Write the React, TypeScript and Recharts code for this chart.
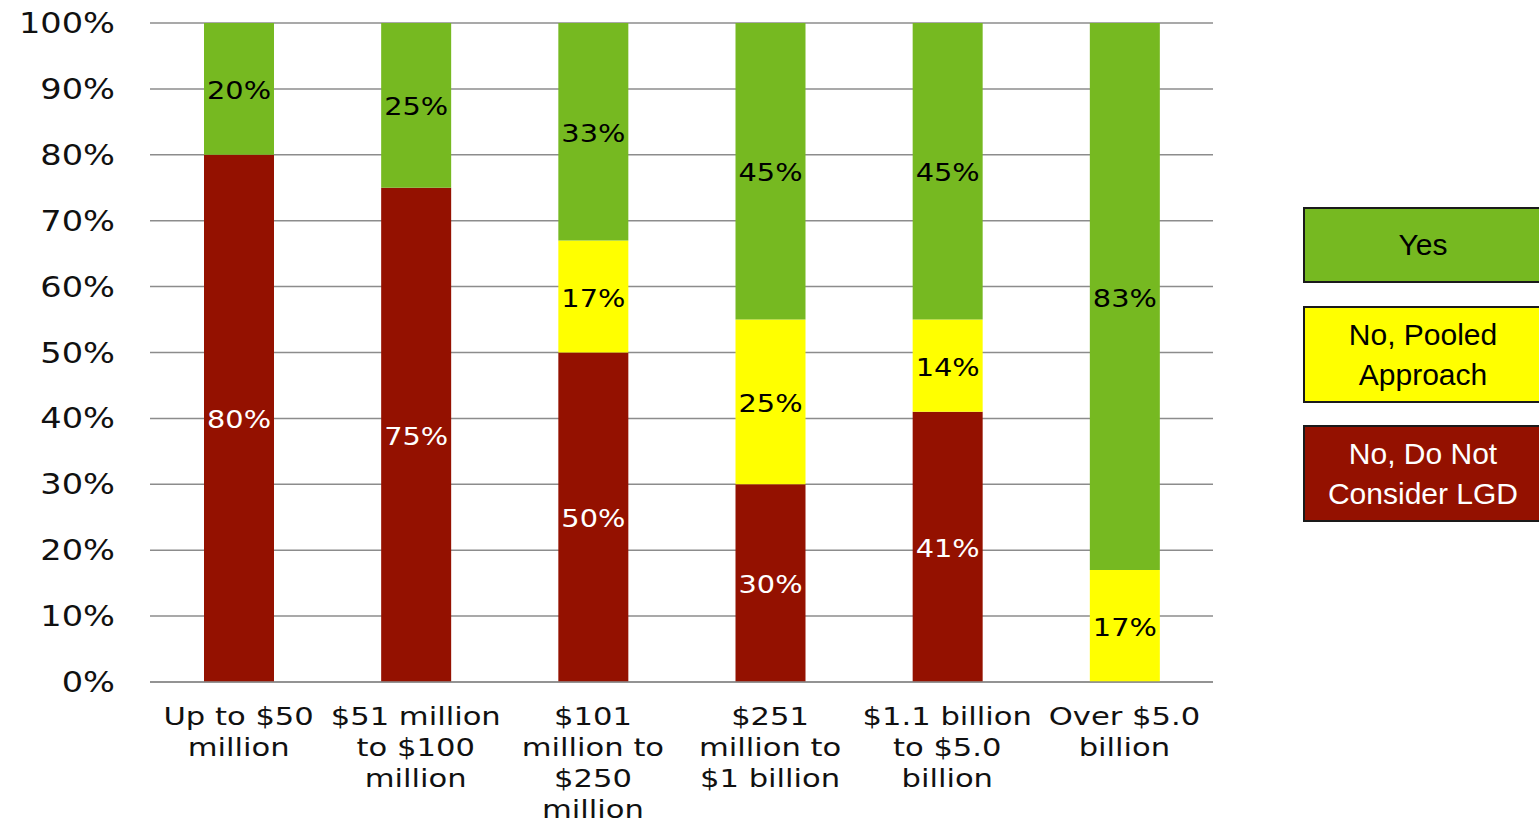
import React from "react"
import { BarChart, Bar, XAxis, YAxis, CartesianGrid, LabelList } from "recharts"

const categories = [
  "Up to $50\nmillion",
  "$51 million\nto $100\nmillion",
  "$101\nmillion to\n$250\nmillion",
  "$251\nmillion to\n$1 billion",
  "$1.1 billion\nto $5.0\nbillion",
  "Over $5.0\nbillion",
]
const doNotConsider = [80, 75, 50, 30, 41, 0]
const pooled = [0, 0, 17, 25, 14, 17]
const yes = [20, 25, 33, 45, 45, 83]
const yTicks = [0, 10, 20, 30, 40, 50, 60, 70, 80, 90, 100]

const series = [
  { key: "yes", name: "Yes", color: "#76b921", text: "#000000" },
  { key: "pooled", name: "No, Pooled\nApproach", color: "#ffff00", text: "#000000" },
  { key: "doNot", name: "No, Do Not\nConsider LGD", color: "#941100", text: "#ffffff" },
]

const data = categories.map((name, i) => ({
  name,
  doNot: doNotConsider[i],
  pooled: pooled[i],
  yes: yes[i],
}))

const FONT = "'DejaVu Sans', Verdana, sans-serif"
const STRETCH = 1.2

function XTick(props: any) {
  const { x, y, payload } = props
  const lines = String(payload.value).split("\n")
  return (
    <g transform={`translate(${x},${y}) scale(${STRETCH},1)`}>
      <text x={0} y={0} textAnchor="middle" fill="#111" fontFamily={FONT} fontSize={25.5}>
        {lines.map((l, i) => (
          <tspan key={i} x={0} y={43 + i * 31}>
            {l}
          </tspan>
        ))}
      </text>
    </g>
  )
}

function YTick(props: any) {
  const { x, y, payload } = props
  return (
    <g transform={`translate(${x},${y}) scale(${STRETCH},1)`}>
      <text x={0} y={0} dy="0.36em" textAnchor="end" fill="#111" fontFamily={FONT} fontSize={28}>
        {payload.value}%
      </text>
    </g>
  )
}

function makeLabel(color: string) {
  return (props: any) => {
    const { x, y, width, height, value } = props
    if (!value) return null
    return (
      <g transform={`translate(${x + width / 2},${y + height / 2}) scale(${STRETCH},1)`}>
        <text x={0} y={0} dy="0.42em" textAnchor="middle" fill={color} fontFamily={FONT} fontSize={24}>
          {value}%
        </text>
      </g>
    )
  }
}

function LegendBoxes() {
  const heights = [76, 97, 97]
  const tops = [207, 306, 425]
  return (
    <>
      {series.map((s, i) => (
        <div
          key={s.key}
          style={{
            position: "absolute",
            left: 1303,
            top: tops[i],
            width: 240,
            height: heights[i],
            boxSizing: "border-box",
            border: "2px solid #1a1a1a",
            background: s.color,
            color: s.text,
            fontFamily: "'Liberation Sans', Arial, sans-serif",
            fontSize: 30,
            lineHeight: "40px",
            display: "flex",
            alignItems: "center",
            justifyContent: "center",
            textAlign: "center",
            whiteSpace: "pre",
          }}
        >
          {s.name}
        </div>
      ))}
    </>
  )
}

export default function App() {
  return (
    <div style={{ position: "absolute", left: 0, top: 0, width: 1539, height: 822, overflow: "hidden", background: "#fff" }}>
      <BarChart width={1539} height={822} data={data} margin={{ top: 23, right: 326, left: 0, bottom: 0 }}>
        <CartesianGrid vertical={false} stroke="#8c8c8c" strokeWidth={1.5} />
        <XAxis
          dataKey="name"
          height={140}
          tick={<XTick />}
          tickLine={false}
          tickSize={0}
          tickMargin={0}
          axisLine={{ stroke: "#8c8c8c", strokeWidth: 1.5 }}
          interval={0}
        />
        <YAxis
          width={150}
          domain={[0, 100]}
          ticks={yTicks}
          axisLine={false}
          tickLine={false}
          tickSize={0}
          tickMargin={35}
          tick={<YTick />}
        />
        <Bar dataKey="doNot" stackId="a" fill="#941100" barSize={70} isAnimationActive={false}>
          <LabelList dataKey="doNot" content={makeLabel("#ffffff")} />
        </Bar>
        <Bar dataKey="pooled" stackId="a" fill="#ffff00" barSize={70} isAnimationActive={false}>
          <LabelList dataKey="pooled" content={makeLabel("#000000")} />
        </Bar>
        <Bar dataKey="yes" stackId="a" fill="#76b921" barSize={70} isAnimationActive={false}>
          <LabelList dataKey="yes" content={makeLabel("#000000")} />
        </Bar>
      </BarChart>
      <LegendBoxes />
    </div>
  )
}
